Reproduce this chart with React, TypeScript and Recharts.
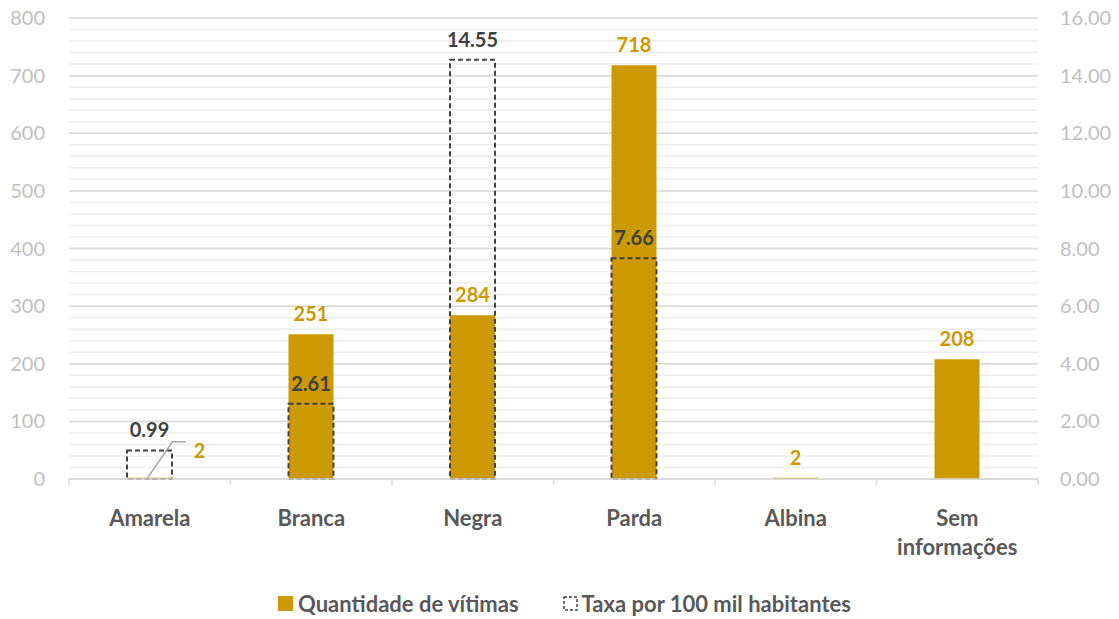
import React from 'react';
import {
  ComposedChart,
  Bar,
  XAxis,
  YAxis,
  CartesianGrid,
  LabelList,
  Legend,
} from 'recharts';

const categories = ['Amarela', 'Branca', 'Negra', 'Parda', 'Albina', 'Sem informações'];
const quantidade = [2, 251, 284, 718, 2, 208];
const taxa: (number | null)[] = [0.99, 2.61, 14.55, 7.66, null, null];

const leftTicks = [0, 100, 200, 300, 400, 500, 600, 700, 800];
const rightTicks = [0, 2, 4, 6, 8, 10, 12, 14, 16];
const LEFT_MAX = 800;
const minorTicks: number[] = [];
for (let v = 0; v <= LEFT_MAX; v += 20) minorTicks.push(v);

const seriesNames = ['Quantidade de vítimas', 'Taxa por 100 mil habitantes'];

const data = categories.map((c, i) => ({
  categoria: c,
  quantidade: quantidade[i],
  taxa: taxa[i],
}));

const GOLD = '#cc9a00';
const DARK = '#404040';
const FONT = "Lato, 'Noto Sans', sans-serif";

const W = 1119;
const H = 619;
const LEFT_W = 69;
const RIGHT_W = 81;
const PLOT_W = W - LEFT_W - RIGHT_W;
const BAND = PLOT_W / categories.length;

const minorGen = (p: any) => {
  const s = p && p.yAxis && p.yAxis.scale;
  if (typeof s === 'function') return minorTicks.map((v) => s(v));
  const off = (p && p.offset) || { top: 0, height: 0 };
  return minorTicks.map((v) => off.top + off.height * (1 - v / LEFT_MAX));
};

const XTick = (props: any) => {
  const { x, y, payload, index } = props;
  const lines: string[] = String(payload.value).split(' ');
  const half = BAND / 2;
  return (
    <g>
      <line x1={x - half} y1={y} x2={x - half} y2={y + 6} stroke="#d9d9d9" strokeWidth={1.5} />
      {index === categories.length - 1 && (
        <line x1={x + half} y1={y} x2={x + half} y2={y + 6} stroke="#d9d9d9" strokeWidth={1.5} />
      )}
      {lines.map((l, i) => (
        <text
          key={i}
          x={x}
          y={y + 47 + i * 29}
          textAnchor="middle"
          fill="#595959"
          fontFamily={FONT}
          fontWeight={700}
          fontSize={22}
        >
          {l}
        </text>
      ))}
    </g>
  );
};

const QtyLabel = (props: any) => {
  const { x, y, width, value, index } = props;
  if (value == null) return null;
  const cx = Number(x) + Number(width) / 2;
  const top = Number(y);
  if (index === 0) {
    return (
      <g>
        <polyline
          points={`${cx - 2},${top} ${cx + 23},${top - 36} ${cx + 36},${top - 36}`}
          fill="none"
          stroke="#a6a6a6"
          strokeWidth={1.5}
        />
        <text
          x={cx + 50}
          y={top - 20}
          textAnchor="middle"
          fill={GOLD}
          fontFamily={FONT}
          fontWeight={700}
          fontSize={20}
        >
          {value}
        </text>
      </g>
    );
  }
  return (
    <text
      x={cx}
      y={top - 13}
      textAnchor="middle"
      fill={GOLD}
      fontFamily={FONT}
      fontWeight={700}
      fontSize={20}
    >
      {value}
    </text>
  );
};

const TaxaLabel = (props: any) => {
  const { x, y, width, value } = props;
  if (value == null) return null;
  const cx = Number(x) + Number(width) / 2;
  return (
    <text
      x={cx}
      y={Number(y) - 13}
      textAnchor="middle"
      fill={DARK}
      fontFamily={FONT}
      fontWeight={700}
      fontSize={20}
    >
      {Number(value).toFixed(2)}
    </text>
  );
};

const LegendContent = () => (
  <div
    style={{
      display: 'flex',
      justifyContent: 'center',
      alignItems: 'center',
      gap: 44,
      height: 28,
      lineHeight: '26px',
      fontFamily: FONT,
      fontWeight: 700,
      fontSize: 22,
      color: '#595959',
      paddingLeft: 10,
    }}
  >
    <div style={{ display: 'flex', alignItems: 'center' }}>
      <svg width={16} height={16} style={{ marginRight: 4 }}>
        <rect x={0} y={0} width={15} height={15} fill={GOLD} />
      </svg>
      <span>{seriesNames[0]}</span>
    </div>
    <div style={{ display: 'flex', alignItems: 'center' }}>
      <svg width={16} height={16} style={{ marginRight: 3 }}>
        <rect x={1} y={1} width={13} height={13} fill="none" stroke={DARK} strokeWidth={1.5} strokeDasharray="3 2" />
      </svg>
      <span>{seriesNames[1]}</span>
    </div>
  </div>
);

export default function App() {
  return (
    <div style={{ position: 'absolute', left: 0, top: 0, width: W, height: H, background: '#fff' }}>
      <ComposedChart
        width={W}
        height={H}
        data={data}
        margin={{ top: 18, right: 0, bottom: 12, left: 0 }}
        barGap={-45}
        barCategoryGap={0}
      >
        <CartesianGrid
          yAxisId="left"
          vertical={false}
          stroke="#ececec"
          strokeWidth={1.5}
          horizontalCoordinatesGenerator={minorGen}
        />
        <CartesianGrid yAxisId="left" vertical={false} stroke="#d9d9d9" strokeWidth={1.5} />
        <XAxis
          dataKey="categoria"
          interval={0}
          height={100}
          axisLine={{ stroke: '#d9d9d9', strokeWidth: 1.5 }}
          tickLine={false}
          tickSize={0}
          tickMargin={0}
          tick={<XTick />}
        />
        <YAxis
          yAxisId="left"
          orientation="left"
          width={LEFT_W}
          domain={[0, LEFT_MAX]}
          ticks={leftTicks}
          axisLine={false}
          tickLine={false}
          tickSize={0}
          tickMargin={24}
          tick={{ fill: '#bfbfbf', fontSize: 20, fontFamily: FONT }}
        />
        <YAxis
          yAxisId="right"
          orientation="right"
          width={RIGHT_W}
          domain={[0, 16]}
          ticks={rightTicks}
          axisLine={false}
          tickLine={false}
          tickSize={0}
          tickMargin={22}
          tickFormatter={(v: number) => v.toFixed(2)}
          tick={{ fill: '#bfbfbf', fontSize: 20, fontFamily: FONT, textAnchor: 'start' }}
        />
        <Bar
          yAxisId="left"
          dataKey="quantidade"
          name={seriesNames[0]}
          fill={GOLD}
          barSize={45}
          isAnimationActive={false}
        >
          <LabelList dataKey="quantidade" content={<QtyLabel />} />
        </Bar>
        <Bar
          yAxisId="right"
          dataKey="taxa"
          name={seriesNames[1]}
          fill="none"
          stroke={DARK}
          strokeWidth={2}
          strokeDasharray="5 3"
          barSize={45}
          isAnimationActive={false}
        >
          <LabelList dataKey="taxa" content={<TaxaLabel />} />
        </Bar>
        <Legend verticalAlign="bottom" wrapperStyle={{ bottom: 1 }} content={<LegendContent />} />
      </ComposedChart>
    </div>
  );
}
